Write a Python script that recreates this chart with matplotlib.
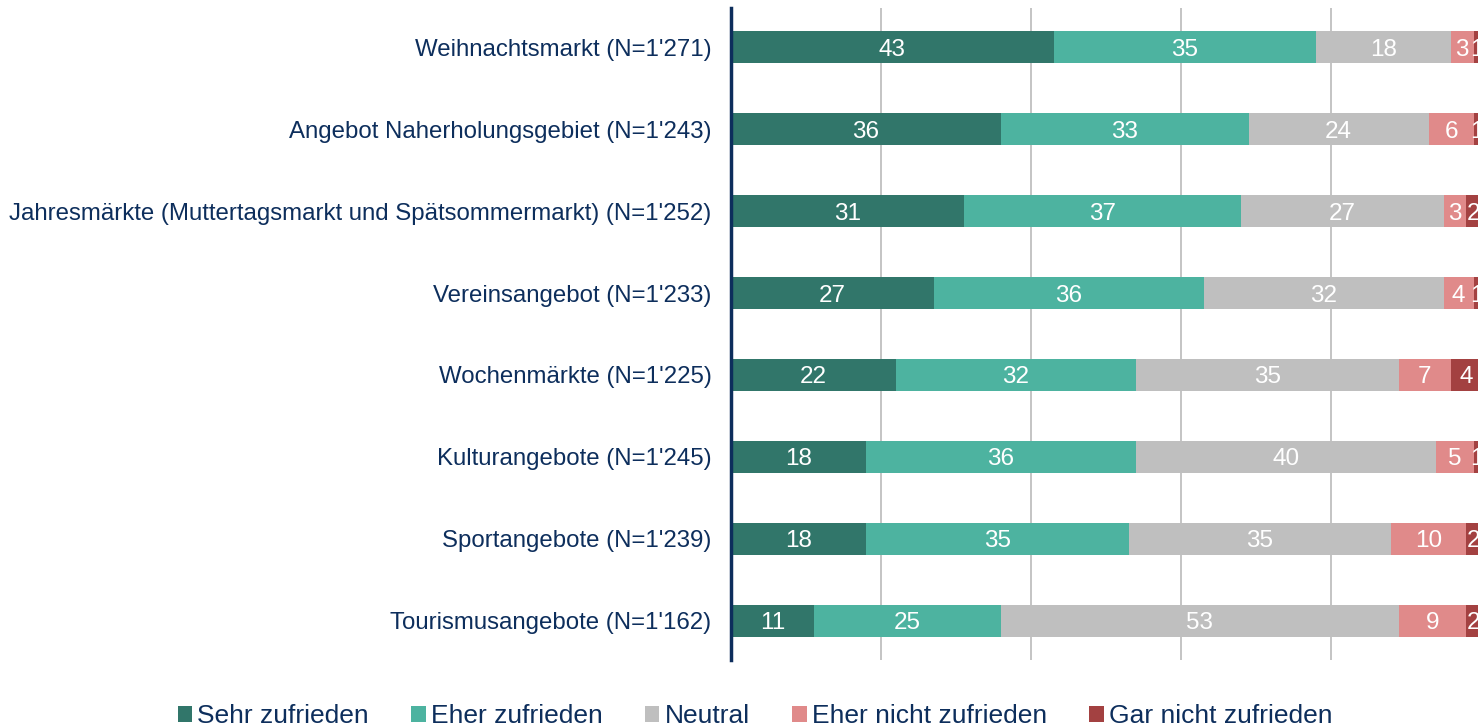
import matplotlib
matplotlib.use("Agg")
import matplotlib.pyplot as plt
import numpy as np

categories = [
    "Weihnachtsmarkt (N=1'271)",
    "Angebot Naherholungsgebiet (N=1'243)",
    "Jahresmärkte (Muttertagsmarkt und Spätsommermarkt) (N=1'252)",
    "Vereinsangebot (N=1'233)",
    "Wochenmärkte (N=1'225)",
    "Kulturangebote (N=1'245)",
    "Sportangebote (N=1'239)",
    "Tourismusangebote (N=1'162)",
]
series_names = ["Sehr zufrieden", "Eher zufrieden", "Neutral",
                "Eher nicht zufrieden", "Gar nicht zufrieden"]
sehr = [43, 36, 31, 27, 22, 18, 18, 11]
eher = [35, 33, 37, 36, 32, 36, 35, 25]
neutral = [18, 24, 27, 32, 35, 40, 35, 53]
eher_nicht = [3, 6, 3, 4, 7, 5, 10, 9]
gar_nicht = [1, 1, 2, 1, 4, 1, 2, 2]
colors = ["#31766A", "#4DB3A0", "#BFBFBF", "#E08A8A", "#A34141"]

plt.rcParams['font.family'] = ['Liberation Sans', 'DejaVu Sans']
text_color = "#0D2E5C"

fig = plt.figure(figsize=(14.78, 7.25), dpi=100)
ax = fig.add_axes([731/1478, 1-660/725, (1481-731)/1478, (660-8)/725])

y = np.arange(len(categories))
left = np.zeros(len(categories))
for name, vals, c in zip(series_names, [sehr, eher, neutral, eher_nicht, gar_nicht], colors):
    vals = np.array(vals, dtype=float)
    ax.barh(y, vals, left=left, height=0.4, color=c, label=name, zorder=3)
    for yi, l, v in zip(y, left, vals):
        ax.text(l + v/2, yi, f"{int(v)}", ha="center", va="center_baseline",
                color="white", fontsize=17.5, zorder=4)
    left += vals

ax.set_xlim(0, 100)
ax.set_ylim(7.476, -0.476)
ax.set_yticks(y)
ax.set_yticklabels(categories, fontsize=17.3, color=text_color)
ax.tick_params(axis='y', length=0, pad=14)
ax.set_xticks([20, 40, 60, 80])
ax.tick_params(axis='x', length=0, labelbottom=False)
ax.grid(axis='x', color="#BFBFBF", linewidth=1.3, zorder=0)
for s in ["top", "right", "bottom"]:
    ax.spines[s].set_visible(False)
ax.spines["left"].set_color(text_color)
ax.spines["left"].set_linewidth(2.5)
ax.spines["left"].set_zorder(5)

leg = fig.legend(loc="center", bbox_to_anchor=(755/1478, 1-716/725), ncol=5,
                 frameon=False, fontsize=19, handlelength=0.55, handleheight=0.55,
                 handletextpad=0.2, columnspacing=1.6, borderpad=0, borderaxespad=0)
for t in leg.get_texts():
    t.set_color(text_color)

fig.savefig("out.png", dpi=100)
